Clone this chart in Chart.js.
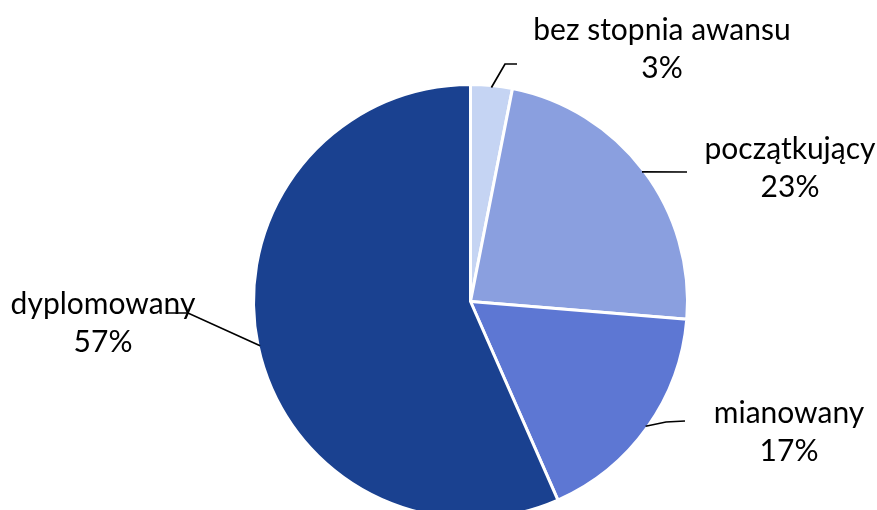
<!DOCTYPE html>
<html>
<head>
<meta charset="utf-8">
<script src="https://cdn.jsdelivr.net/npm/chart.js@4"></script>
<style>
  html, body { margin: 0; padding: 0; background: #fff; overflow: hidden; }
  #wrap { position: relative; width: 877px; height: 602px; }
</style>
</head>
<body>
<div id="wrap"><canvas id="chart"></canvas></div>
<script>
const categories = ['bez stopnia awansu', 'początkujący', 'mianowany', 'dyplomowany']
const shares = [3.1, 23.2, 17.1, 56.6]
const colors = ['#c5d4f3', '#8a9fdf', '#5d77d3', '#1a4190']

// where each label sits and how its leader line bends (pixels)
const labelSpots = [
  { x: 662, y: 40, bend: [[505, 64], [517, 64]] },
  { x: 790, y: 159, bend: [[687, 172]] },
  { x: 789, y: 423, bend: [[666, 422], [685, 421]] },
  { x: 103, y: 314, bend: [[188, 313], [168, 313]] }
]

const leaderLabels = {
  id: 'leaderLabels',
  afterDatasetsDraw(chart) {
    const ctx = chart.ctx
    const meta = chart.getDatasetMeta(0)
    ctx.save()
    meta.data.forEach((arc, i) => {
      const p = arc.getProps(['x', 'y', 'startAngle', 'endAngle', 'outerRadius'])
      const mid = (p.startAngle + p.endAngle) / 2
      const sx = p.x + Math.cos(mid) * (p.outerRadius - 2)
      const sy = p.y + Math.sin(mid) * (p.outerRadius - 2)
      const spot = labelSpots[i]
      ctx.beginPath()
      ctx.moveTo(sx, sy)
      spot.bend.forEach(pt => ctx.lineTo(pt[0], pt[1]))
      ctx.strokeStyle = '#000'
      ctx.lineWidth = 1.7
      ctx.stroke()

      ctx.fillStyle = '#000'
      ctx.font = '30px Lato, "Liberation Sans", Arial, sans-serif'
      ctx.textAlign = 'center'
      ctx.textBaseline = 'alphabetic'
      ctx.fillText(categories[i], spot.x, spot.y)
      ctx.fillText(Math.round(shares[i]) + '%', spot.x, spot.y + 38)
    })
    ctx.restore()
  }
}

new Chart(document.getElementById('chart'), {
  type: 'pie',
  data: {
    labels: categories,
    datasets: [{
      data: shares,
      backgroundColor: colors,
      borderColor: '#ffffff',
      borderWidth: 3
    }]
  },
  options: {
    responsive: true,
    maintainAspectRatio: false,
    animation: false,
    layout: { padding: { left: 252, right: 188, top: 83, bottom: 82 } },
    plugins: {
      legend: { display: false },
      tooltip: { enabled: false }
    }
  },
  plugins: [leaderLabels]
})
</script>
</body>
</html>
